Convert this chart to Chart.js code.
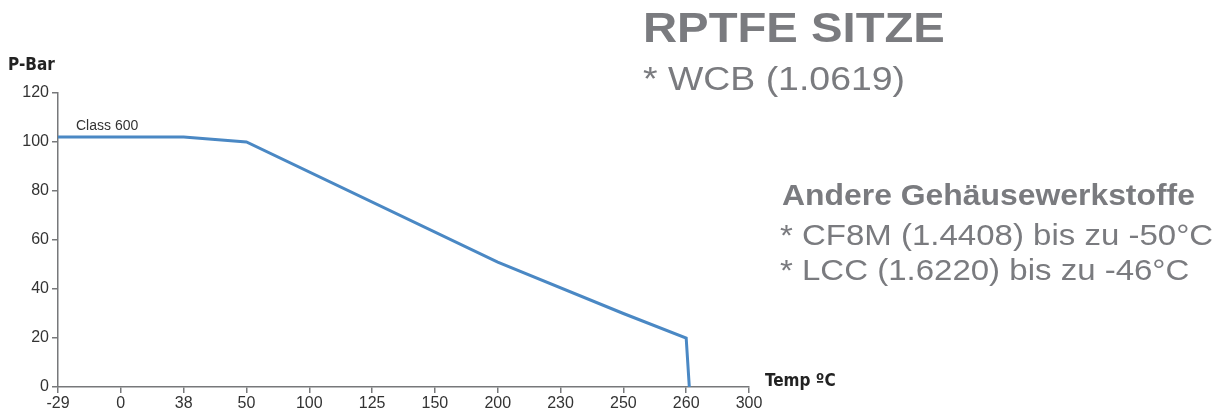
<!DOCTYPE html>
<html>
<head>
<meta charset="utf-8">
<script src="https://cdn.jsdelivr.net/npm/chart.js@4.4.0/dist/chart.umd.min.js"></script>
<style>
  html, body { margin: 0; padding: 0; background: #fff; }
  #wrap { position: relative; width: 1221px; height: 416px; overflow: hidden; }
  #chart { position: absolute; left: 0; top: 0; }
  .txt { position: absolute; color: #7a7b7f; font-family: 'Liberation Sans', Arial, sans-serif;
         line-height: 1; white-space: nowrap; transform-origin: 0 0; }
</style>
</head>
<body>
<div id="wrap">
  <canvas id="chart" width="1221" height="416"></canvas>
  <div class="txt" id="t1" style="font-weight:bold;">RPTFE SITZE</div>
  <div class="txt" id="t2">* WCB (1.0619)</div>
  <div class="txt" id="t3" style="font-weight:bold;">Andere Gehäusewerkstoffe</div>
  <div class="txt" id="t4">* CF8M (1.4408) bis zu -50°C</div>
  <div class="txt" id="t5">* LCC (1.6220) bis zu -46°C</div>
</div>
<script>
// Temperatur-Achse (Kategorien, gleichabständig)
const tempLabels = ['-29', '0', '38', '50', '100', '125', '150', '200', '230', '250', '260', '300'];
const pressureTicks = [0, 20, 40, 60, 80, 100, 120];

// Kurve Class 600: Position auf der Temperatur-Achse (Index) und Druck in bar
const class600Pos = [0, 2, 3, 7, 9, 10, 10.05];
const class600Bar = [102, 102, 100, 51, 30, 20, 0];

const seriesName = 'Class 600';

// Textblock rechts: [id, Grundlinie, Schriftgröße, Breite]
const textLines = [
    ['t1', 43, 42, 302, 643],
    ['t2', 90, 33, 262, 643],
    ['t3', 205, 30, 413, 782],
    ['t4', 245, 30, 433, 780],
    ['t5', 280, 30, 0, 780]
];

function placeText() {
    let scale4 = 1;
    textLines.forEach(function(l) {
        const el = document.getElementById(l[0]);
        el.style.fontSize = l[2] + 'px';
        el.style.left = l[4] + 'px';
        el.style.top = (l[1] - 0.8465 * l[2]) + 'px';
        let sx = 1;
        if (l[3] > 0) {
            sx = l[3] / el.getBoundingClientRect().width;
            if (l[0] === 't4') scale4 = sx;
        } else {
            sx = scale4;
        }
        el.style.transform = 'scaleX(' + sx.toFixed(3) + ')';
    });
}
placeText();

const axisColor = '#77787a';
const tickFont = { family: "'Liberation Sans', Arial, sans-serif", size: 16 };

const labelsPlugin = {
    id: 'labelsPlugin',
    afterDraw: function(chart) {
        const ctx = chart.ctx;
        const x = chart.scales.x, y = chart.scales.y;
        ctx.save();
        ctx.fillStyle = '#222';
        ctx.textBaseline = 'alphabetic';
        ctx.textAlign = 'left';
        ctx.font = "bold 17px 'Liberation Sans Narrow', 'DejaVu Sans Condensed', sans-serif";
        ctx.fillText('P-Bar', 8, 70);
        ctx.fillText('Temp ºC', x.right + 16, y.bottom - 1);
        ctx.fillStyle = '#333';
        ctx.font = "14px 'Liberation Sans', Arial, sans-serif";
        ctx.fillText(seriesName, x.getPixelForValue(0) + 18, y.getPixelForValue(102) - 7);
        ctx.restore();
    }
};

const ctx = document.getElementById('chart').getContext('2d');
const chart = new Chart(ctx, {
    type: 'line',
    data: {
        datasets: [{
            label: seriesName,
            data: class600Pos.map(function(p, i) { return { x: p, y: class600Bar[i] }; }),
            borderColor: '#4a88c4',
            borderWidth: 3,
            pointRadius: 0,
            tension: 0,
            fill: false
        }]
    },
    plugins: [labelsPlugin],
    options: {
        responsive: false,
        animation: false,
        layout: { padding: { top: 93, right: 472, left: 0, bottom: 0 } },
        plugins: { legend: { display: false }, tooltip: { enabled: false } },
        scales: {
            x: {
                type: 'linear',
                min: 0,
                max: tempLabels.length - 1,
                afterFit: function(s) { s.height = 29; },
                afterBuildTicks: function(s) {
                    s.ticks = tempLabels.map(function(l, i) { return { value: i }; });
                },
                ticks: {
                    color: '#333',
                    font: tickFont,
                    padding: 1,
                    maxRotation: 0,
                    autoSkip: false,
                    callback: function(v) { return tempLabels[v]; }
                },
                grid: { drawOnChartArea: false, drawTicks: true, tickLength: 6, color: axisColor, lineWidth: 1.5 },
                border: { color: axisColor, width: 1.5 }
            },
            y: {
                min: 0,
                max: 120,
                afterFit: function(s) { s.width = 58; },
                afterBuildTicks: function(s) {
                    s.ticks = pressureTicks.map(function(v) { return { value: v }; });
                },
                ticks: { color: '#333', font: tickFont, padding: 3 },
                grid: { drawOnChartArea: false, drawTicks: true, tickLength: 6, color: axisColor, lineWidth: 1.5 },
                border: { color: axisColor, width: 1.5 }
            }
        }
    }
});
</script>
</body>
</html>
